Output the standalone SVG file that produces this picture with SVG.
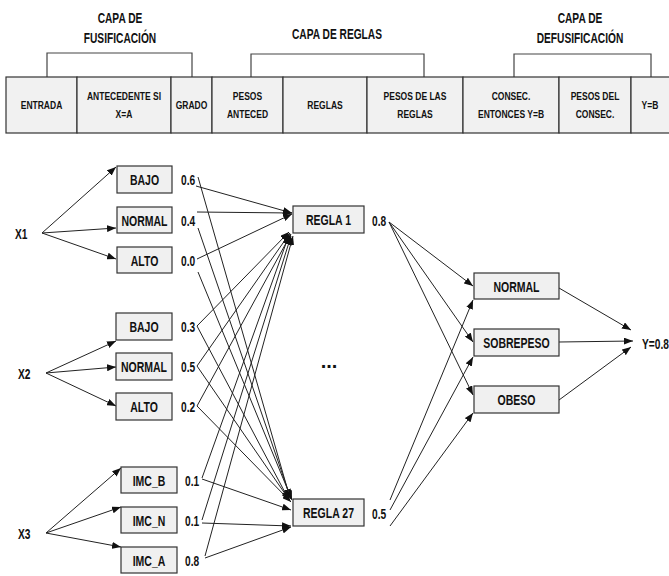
<svg xmlns="http://www.w3.org/2000/svg" width="669" height="576" viewBox="0 0 669 576">
<defs>
<marker id="ah" markerUnits="userSpaceOnUse" markerWidth="9" markerHeight="7" refX="9" refY="3.5" orient="auto">
<path d="M0,0 L9,3.5 L0,7 z" fill="#111"/>
</marker>
<style>
text{font-family:"Liberation Sans",Arial,sans-serif;font-weight:bold;fill:#111}
.t{font-size:15px;text-anchor:middle}
.h{font-size:11.5px;text-anchor:middle}
.n{font-size:15px;text-anchor:middle}
.v{font-size:15px}
.cell{fill:#f1f1f1;stroke:#333;stroke-width:1.2}
.box{fill:#f0f0f0;stroke:#333;stroke-width:1.2}
.br{fill:none;stroke:#444;stroke-width:1.2}
.c line{stroke:#222;stroke-width:1;marker-end:url(#ah)}
</style>
</defs>
<rect width="669" height="576" fill="#fff"/>

<g id="titles">
<text class="t" transform="translate(120,23) scale(0.68,1)">CAPA DE</text>
<text class="t" transform="translate(120,43) scale(0.68,1)">FUSIFICACIÓN</text>
<text class="t" transform="translate(337,39) scale(0.68,1)">CAPA DE REGLAS</text>
<text class="t" transform="translate(580,23) scale(0.68,1)">CAPA DE</text>
<text class="t" transform="translate(580,43) scale(0.68,1)">DEFUSIFICACIÓN</text>
<polyline class="br" points="47,77 47,53 192,53 192,77"/>
<polyline class="br" points="251,77 251,54 424,54 424,77"/>
<polyline class="br" points="514,77 514,54 651,54 651,77"/>
</g>

<g id="header">
<rect class="cell" x="6" y="77" width="71" height="56"/>
<rect class="cell" x="77" y="77" width="94" height="56"/>
<rect class="cell" x="171" y="77" width="41" height="56"/>
<rect class="cell" x="212" y="77" width="71" height="56"/>
<rect class="cell" x="283" y="77" width="84" height="56"/>
<rect class="cell" x="367" y="77" width="96" height="56"/>
<rect class="cell" x="463" y="77" width="96" height="56"/>
<rect class="cell" x="559" y="77" width="72" height="56"/>
<rect class="cell" x="631" y="77" width="45" height="56"/>
<text class="h" transform="translate(41.5,108.5) scale(0.74,1)">ENTRADA</text>
<text class="h" transform="translate(124,100) scale(0.74,1)">ANTECEDENTE SI</text>
<text class="h" transform="translate(124,118) scale(0.74,1)">X=A</text>
<text class="h" transform="translate(191.5,108.5) scale(0.74,1)">GRADO</text>
<text class="h" transform="translate(247.5,100) scale(0.74,1)">PESOS</text>
<text class="h" transform="translate(247.5,118) scale(0.74,1)">ANTECED</text>
<text class="h" transform="translate(325,108.5) scale(0.74,1)">REGLAS</text>
<text class="h" transform="translate(415,100) scale(0.74,1)">PESOS DE LAS</text>
<text class="h" transform="translate(415,118) scale(0.74,1)">REGLAS</text>
<text class="h" transform="translate(511,100) scale(0.74,1)">CONSEC.</text>
<text class="h" transform="translate(511,118) scale(0.74,1)">ENTONCES Y=B</text>
<text class="h" transform="translate(595,100) scale(0.74,1)">PESOS DEL</text>
<text class="h" transform="translate(595,118) scale(0.74,1)">CONSEC.</text>
<text class="h" transform="translate(650,108.5) scale(0.74,1)">Y=B</text>
</g>

<g class="c" id="connectors">
<line x1="42" y1="233" x2="116" y2="167"/>
<line x1="42" y1="233" x2="116" y2="228"/>
<line x1="42" y1="233" x2="116" y2="259"/>
<line x1="46" y1="373" x2="116" y2="341"/>
<line x1="46" y1="373" x2="116" y2="367"/>
<line x1="46" y1="373" x2="116" y2="406"/>
<line x1="46" y1="533" x2="121" y2="468"/>
<line x1="46" y1="533" x2="121" y2="507"/>
<line x1="46" y1="533" x2="121" y2="547"/>

<line x1="196" y1="186" x2="292" y2="213"/>
<line x1="197" y1="212" x2="292" y2="213"/>
<line x1="197" y1="259" x2="292" y2="214"/>
<line x1="197" y1="326" x2="289" y2="232"/>
<line x1="197" y1="366" x2="290" y2="233"/>
<line x1="197" y1="406" x2="291" y2="234"/>
<line x1="202" y1="478" x2="289" y2="235"/>
<line x1="202" y1="520" x2="291" y2="236"/>
<line x1="205" y1="556" x2="293" y2="236"/>

<line x1="198" y1="177" x2="290" y2="498"/>
<line x1="198" y1="228" x2="291" y2="499"/>
<line x1="198" y1="272" x2="292" y2="500"/>
<line x1="197" y1="326" x2="289" y2="500"/>
<line x1="197" y1="366" x2="290" y2="501"/>
<line x1="197" y1="406" x2="291" y2="502"/>
<line x1="202" y1="479" x2="291" y2="510"/>
<line x1="202" y1="523" x2="291" y2="526"/>
<line x1="205" y1="558" x2="291" y2="527"/>

<line x1="389" y1="222" x2="473" y2="286"/>
<line x1="389" y1="222" x2="473" y2="342"/>
<line x1="389" y1="222" x2="473" y2="395"/>
<line x1="390" y1="500" x2="473" y2="300"/>
<line x1="390" y1="510" x2="473" y2="357"/>
<line x1="390" y1="526" x2="473" y2="413"/>

<line x1="559" y1="288" x2="631" y2="330"/>
<line x1="559" y1="342" x2="633" y2="341"/>
<line x1="559" y1="400" x2="631" y2="347"/>
</g>

<g id="X1"><text class="v" transform="translate(15,239) scale(0.68,1)">X1</text></g>
<g id="X2"><text class="v" transform="translate(18,379) scale(0.68,1)">X2</text></g>
<g id="X3"><text class="v" transform="translate(18,539) scale(0.68,1)">X3</text></g>

<g id="x1_bajo"><rect class="box" x="117" y="166" width="55" height="27"/><text class="n" transform="translate(144.5,185) scale(0.7,1)">BAJO</text><text class="v" transform="translate(181,185) scale(0.68,1)">0.6</text></g>
<g id="x1_normal"><rect class="box" x="117" y="207" width="55" height="26"/><text class="n" transform="translate(144.5,226) scale(0.7,1)">NORMAL</text><text class="v" transform="translate(181,226) scale(0.68,1)">0.4</text></g>
<g id="x1_alto"><rect class="box" x="117" y="247" width="55" height="26"/><text class="n" transform="translate(144.5,266) scale(0.7,1)">ALTO</text><text class="v" transform="translate(181,266) scale(0.68,1)">0.0</text></g>

<g id="x2_bajo"><rect class="box" x="116" y="313" width="56" height="27"/><text class="n" transform="translate(144,332) scale(0.7,1)">BAJO</text><text class="v" transform="translate(181,332) scale(0.68,1)">0.3</text></g>
<g id="x2_normal"><rect class="box" x="116" y="353" width="56" height="27"/><text class="n" transform="translate(144,372) scale(0.7,1)">NORMAL</text><text class="v" transform="translate(181,372) scale(0.68,1)">0.5</text></g>
<g id="x2_alto"><rect class="box" x="116" y="393" width="56" height="27"/><text class="n" transform="translate(144,412) scale(0.7,1)">ALTO</text><text class="v" transform="translate(181,412) scale(0.68,1)">0.2</text></g>

<g id="imc_b"><rect class="box" x="121" y="467" width="56" height="26"/><text class="n" transform="translate(149,486) scale(0.7,1)">IMC_B</text><text class="v" transform="translate(185,486) scale(0.68,1)">0.1</text></g>
<g id="imc_n"><rect class="box" x="121" y="507" width="56" height="26"/><text class="n" transform="translate(149,526) scale(0.7,1)">IMC_N</text><text class="v" transform="translate(185,526) scale(0.68,1)">0.1</text></g>
<g id="imc_a"><rect class="box" x="121" y="547" width="56" height="26"/><text class="n" transform="translate(149,566) scale(0.7,1)">IMC_A</text><text class="v" transform="translate(185,566) scale(0.68,1)">0.8</text></g>

<g id="regla1"><rect class="box" x="293" y="206" width="71" height="27"/><text class="n" transform="translate(328.5,225) scale(0.7,1)">REGLA 1</text><text class="v" transform="translate(372,226) scale(0.68,1)">0.8</text></g>
<g id="dots"><text class="n" style="font-size:20px" transform="translate(329,368)">...</text></g>
<g id="regla27"><rect class="box" x="293" y="499" width="71" height="27"/><text class="n" transform="translate(328.5,518) scale(0.7,1)">REGLA 27</text><text class="v" transform="translate(372,519) scale(0.68,1)">0.5</text></g>

<g id="out_normal"><rect class="box" x="474" y="273" width="85" height="26"/><text class="n" transform="translate(516.5,292) scale(0.7,1)">NORMAL</text></g>
<g id="out_sobrepeso"><rect class="box" x="474" y="329" width="85" height="27"/><text class="n" transform="translate(516.5,348) scale(0.7,1)">SOBREPESO</text></g>
<g id="out_obeso"><rect class="box" x="474" y="386" width="85" height="27"/><text class="n" transform="translate(516.5,405) scale(0.7,1)">OBESO</text></g>
<g id="y_out"><text class="v" transform="translate(642,349) scale(0.68,1)">Y=0.8</text></g>
</svg>
